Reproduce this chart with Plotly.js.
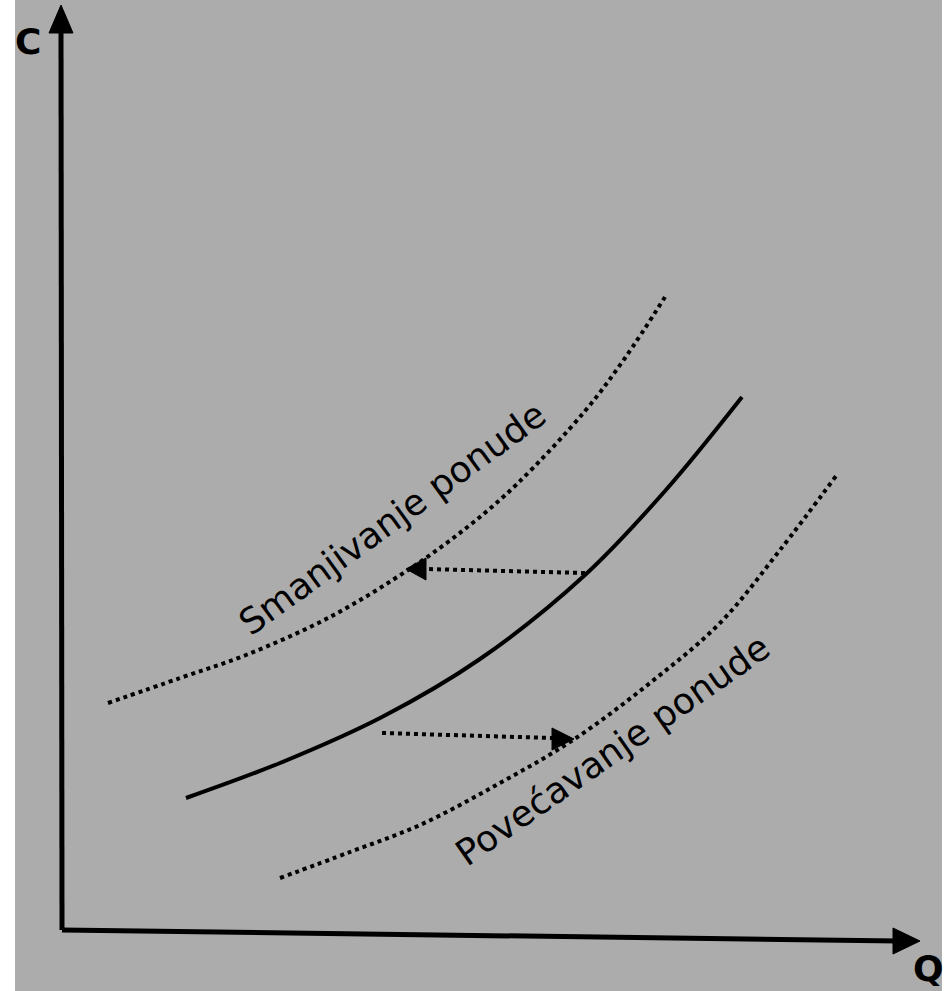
<!DOCTYPE html>
<html>
<head>
<meta charset="utf-8">
<script src="https://cdn.plot.ly/plotly-3.0.1.min.js"></script>
<style>html,body{margin:0;padding:0;background:#fff;}#chart{width:947px;height:991px;}</style>
</head>
<body>
<div id="chart"></div>
<script>
// Curves (units: from axis origin, y up)
const supplyX = [124, 218, 320, 418, 523, 603, 680];
const supplyY = [132, 167, 213, 271, 355, 439, 533];
const decreaseX = [46, 118, 184, 268, 349, 408, 455, 523, 563, 603];
const decreaseY = [227, 252, 275, 313, 362, 405, 446, 519, 572, 633];
const increaseX = [218, 288, 358, 438, 511, 588, 658, 718, 774];
const increaseY = [52, 78, 105, 147, 190, 247, 307, 380, 454];

// Shift arrows
const leftArrowX = [523, 363];
const leftArrowY = [357, 361];
const leftHeadX = [344, 364, 364, 344];
const leftHeadY = [361, 372, 350, 361];
const rightArrowX = [320, 490];
const rightArrowY = [197, 192];
const rightHeadX = [512, 490, 490, 512];
const rightHeadY = [191, 202, 180, 191];

// Axes
const yAxisX = [0, -1];
const yAxisY = [0, 900];
const yHeadX = [-1, -13, 11, -1];
const yHeadY = [925, 897, 897, 925];
const xAxisX = [0, 836];
const xAxisY = [0, -11];
const xHeadX = [858, 831, 831, 858];
const xHeadY = [-11, 2, -24, -11];

const labels = ["Smanjivanje ponude", "Povećavanje ponude"];
const labelX = [330, 550];
const labelY = [412, 180];
const labelAngle = [-36, -35];
const axisLabels = ["C", "Q"];
const axisLabelX = [-34, 866];
const axisLabelY = [889, -38];

const blk = "#000000";
const traces = [
  {x: supplyX, y: supplyY, mode: "lines", line: {color: blk, width: 4, shape: "spline"}},
  {x: decreaseX, y: decreaseY, mode: "lines", line: {color: blk, width: 4, dash: "dot", shape: "spline"}},
  {x: increaseX, y: increaseY, mode: "lines", line: {color: blk, width: 4, dash: "dot", shape: "spline"}},
  {x: leftArrowX, y: leftArrowY, mode: "lines", line: {color: blk, width: 4, dash: "dot"}},
  {x: leftHeadX, y: leftHeadY, mode: "lines", fill: "toself", fillcolor: blk, line: {color: blk, width: 1}},
  {x: rightArrowX, y: rightArrowY, mode: "lines", line: {color: blk, width: 4, dash: "dot"}},
  {x: rightHeadX, y: rightHeadY, mode: "lines", fill: "toself", fillcolor: blk, line: {color: blk, width: 1}},
  {x: yAxisX, y: yAxisY, mode: "lines", line: {color: blk, width: 5}},
  {x: yHeadX, y: yHeadY, mode: "lines", fill: "toself", fillcolor: blk, line: {color: blk, width: 1}},
  {x: xAxisX, y: xAxisY, mode: "lines", line: {color: blk, width: 5}},
  {x: xHeadX, y: xHeadY, mode: "lines", fill: "toself", fillcolor: blk, line: {color: blk, width: 1}}
];

const annotations = [];
labels.forEach((t, i) => annotations.push({
  x: labelX[i], y: labelY[i], text: t, showarrow: false, textangle: labelAngle[i],
  font: {family: "DejaVu Sans", size: 36, color: blk}
}));
axisLabels.forEach((t, i) => annotations.push({
  x: axisLabelX[i], y: axisLabelY[i], text: "<b>" + t + "</b>", showarrow: false,
  font: {family: "DejaVu Sans", size: 36, color: blk}
}));

const layout = {
  width: 947, height: 991,
  margin: {l: 15, r: 5, t: 0, b: 0},
  paper_bgcolor: "#ffffff",
  plot_bgcolor: "#acacac",
  showlegend: false,
  xaxis: {range: [-47, 880], visible: false, fixedrange: true},
  yaxis: {range: [-61, 930], visible: false, fixedrange: true},
  annotations: annotations
};
Plotly.newPlot("chart", traces.map(t => Object.assign({hoverinfo: "skip"}, t)), layout, {staticPlot: true});
</script>
</body>
</html>
